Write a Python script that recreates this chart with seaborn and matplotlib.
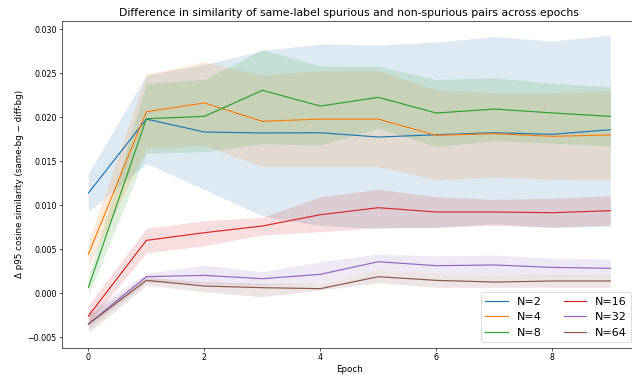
import pandas as pd
import matplotlib
matplotlib.use("Agg")
import matplotlib.pyplot as plt
import seaborn as sns

# Data
epochs = list(range(10))
labels = ["N=2", "N=4", "N=8", "N=16", "N=32", "N=64"]

n2_mean = [0.01140, 0.01980, 0.01833, 0.01822, 0.01825, 0.01776, 0.01802, 0.01825, 0.01807, 0.01859]
n2_low = [0.00927, 0.01477, 0.01180, 0.00880, 0.00770, 0.00740, 0.00750, 0.00790, 0.00750, 0.00760]
n2_high = [0.01364, 0.02480, 0.02600, 0.02760, 0.02833, 0.02820, 0.02856, 0.02916, 0.02867, 0.02935]

n4_mean = [0.00443, 0.02064, 0.02163, 0.01955, 0.01980, 0.01980, 0.01795, 0.01814, 0.01784, 0.01799]
n4_low = [0.00302, 0.01650, 0.01680, 0.01440, 0.01440, 0.01440, 0.01288, 0.01325, 0.01295, 0.01300]
n4_high = [0.00586, 0.02490, 0.02630, 0.02480, 0.02530, 0.02530, 0.02310, 0.02280, 0.02280, 0.02300]

n8_mean = [0.00068, 0.01984, 0.02011, 0.02307, 0.02128, 0.02227, 0.02049, 0.02094, 0.02050, 0.02011]
n8_low = [-0.00020, 0.01590, 0.01610, 0.01700, 0.01686, 0.01875, 0.01667, 0.01734, 0.01705, 0.01674]
n8_high = [0.00189, 0.02386, 0.02430, 0.02770, 0.02583, 0.02580, 0.02430, 0.02450, 0.02386, 0.02348]

n16_mean = [-0.00258, 0.00602, 0.00689, 0.00765, 0.00893, 0.00973, 0.00924, 0.00924, 0.00916, 0.00939]
n16_low = [-0.00340, 0.00461, 0.00541, 0.00663, 0.00700, 0.00746, 0.00750, 0.00773, 0.00750, 0.00776]
n16_high = [-0.00133, 0.00739, 0.00825, 0.00864, 0.01098, 0.01182, 0.01098, 0.01068, 0.01080, 0.01109]

n32_mean = [-0.00349, 0.00189, 0.00204, 0.00166, 0.00216, 0.00359, 0.00314, 0.00322, 0.00295, 0.00284]
n32_low = [-0.00398, 0.00130, 0.00110, 0.00090, 0.00120, 0.00273, 0.00227, 0.00208, 0.00197, 0.00200]
n32_high = [-0.00209, 0.00227, 0.00318, 0.00245, 0.00359, 0.00447, 0.00424, 0.00435, 0.00398, 0.00390]

n64_mean = [-0.00350, 0.00147, 0.00083, 0.00064, 0.00053, 0.00189, 0.00147, 0.00128, 0.00140, 0.00140]
n64_low = [-0.00448, 0.00094, 0.00018, -0.00039, 0.00038, 0.00120, 0.00068, 0.00068, 0.00068, 0.00068]
n64_high = [-0.00247, 0.00182, 0.00132, 0.00114, 0.00114, 0.00273, 0.00227, 0.00208, 0.00208, 0.00208]

means = [n2_mean, n4_mean, n8_mean, n16_mean, n32_mean, n64_mean]
lows = [n2_low, n4_low, n8_low, n16_low, n32_low, n64_low]
highs = [n2_high, n4_high, n8_high, n16_high, n32_high, n64_high]

rows = []
for lab, m, lo, hi in zip(labels, means, lows, highs):
    for e, v, a, b in zip(epochs, m, lo, hi):
        rows.append({"Epoch": e, "value": v, "low": a, "high": b, "N": lab})
df = pd.DataFrame(rows)

colors = sns.color_palette("tab10", len(labels))

fig = plt.figure(figsize=(632 / 57, 381 / 57), dpi=57)
ax = fig.add_axes([62.3 / 632, 1 - 347.7 / 381, (636.4 - 62.3) / 632, (347.7 - 20.7) / 381])

sns.lineplot(data=df, x="Epoch", y="value", hue="N", palette=colors, errorbar=None, ax=ax, linewidth=1.5)
for lab, c in zip(labels, colors):
    sub = df[df["N"] == lab]
    ax.fill_between(sub["Epoch"], sub["low"], sub["high"], color=c, alpha=0.15, linewidth=0)

ax.set_xlim(-0.45, 9.45)
ax.set_ylim(-0.00618, 0.03098)
ax.set_title("Difference in similarity of same-label spurious and non-spurious pairs across epochs", fontsize=13.7)
ax.set_xlabel("Epoch", fontsize=11)
ax.set_ylabel("\u0394 p95 cosine similarity (same-bg \u2212 diff-bg)", fontsize=11)
ax.tick_params(labelsize=10)
ax.legend(ncol=2, loc="lower right", fontsize=14)

fig.savefig("out.png", dpi=57)
